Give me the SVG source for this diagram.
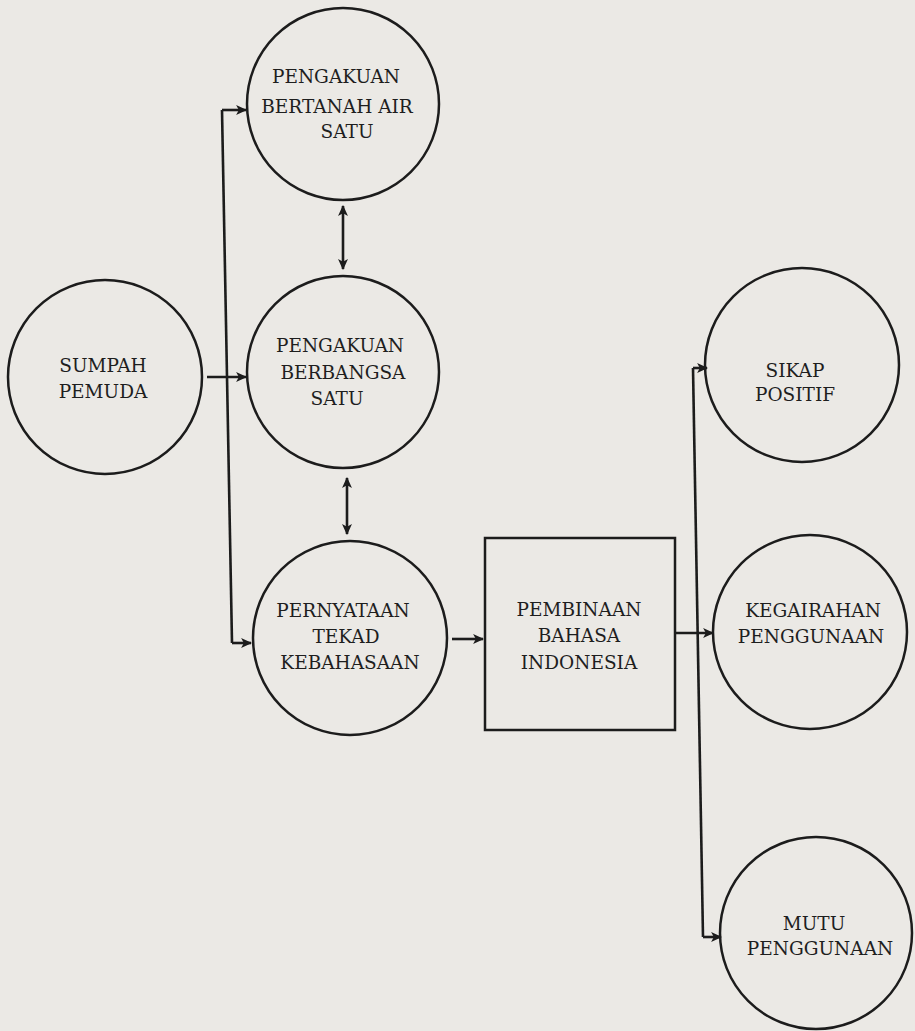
<svg xmlns="http://www.w3.org/2000/svg" width="915" height="1031" viewBox="0 0 915 1031">
<style>
.bg{fill:#ebe9e5}
.n{fill:none;stroke:#1c1c1c;stroke-width:2.5}
.c{fill:none;stroke:#1c1c1c;stroke-width:2.6}
.t{font-family:"DejaVu Serif","Liberation Serif",serif;font-size:18.5px;fill:#1e1e1e;text-anchor:middle}
</style>
<defs>
<marker id="ah" viewBox="0 0 10 10" refX="9" refY="5" markerWidth="11" markerHeight="11" markerUnits="userSpaceOnUse" orient="auto-start-reverse">
<path d="M0,0.5 L10,5 L0,9.5 L2.5,5 Z" fill="#1c1c1c"/>
</marker>
</defs>
<rect class="bg" x="0" y="0" width="915" height="1031"/>
<g id="connectors">
<path class="c" d="M222,110 L232,643"/>
<path class="c" d="M222,110 H246" marker-end="url(#ah)"/>
<path class="c" d="M232,643 H251" marker-end="url(#ah)"/>
<path class="c" d="M207,377 H246" marker-end="url(#ah)"/>
<path class="c" d="M343,206 V269" marker-start="url(#ah)" marker-end="url(#ah)"/>
<path class="c" d="M347,478 V534" marker-start="url(#ah)" marker-end="url(#ah)"/>
<path class="c" d="M452,639 H483" marker-end="url(#ah)"/>
<path class="c" d="M693,368 L703,937"/>
<path class="c" d="M693,368 H707" marker-end="url(#ah)"/>
<path class="c" d="M675,633 H713" marker-end="url(#ah)"/>
<path class="c" d="M703,937 H721" marker-end="url(#ah)"/>
</g>
<g id="sumpah-pemuda">
<circle class="n" cx="105" cy="377" r="97"/>
<text class="t" x="103" y="372">SUMPAH</text>
<text class="t" x="103" y="398">PEMUDA</text>
</g>
<g id="bertanah-air">
<circle class="n" cx="343" cy="104" r="96"/>
<text class="t" x="336" y="83">PENGAKUAN</text>
<text class="t" x="337" y="113">BERTANAH AIR</text>
<text class="t" x="347" y="138">SATU</text>
</g>
<g id="berbangsa">
<circle class="n" cx="343" cy="372" r="96"/>
<text class="t" x="340" y="352">PENGAKUAN</text>
<text class="t" x="343" y="379">BERBANGSA</text>
<text class="t" x="337" y="405">SATU</text>
</g>
<g id="pernyataan">
<circle class="n" cx="350" cy="638" r="97"/>
<text class="t" x="343" y="617">PERNYATAAN</text>
<text class="t" x="346" y="643">TEKAD</text>
<text class="t" x="350" y="669">KEBAHASAAN</text>
</g>
<g id="pembinaan">
<rect class="n" x="485" y="538" width="190" height="192"/>
<text class="t" x="579" y="616">PEMBINAAN</text>
<text class="t" x="579" y="642">BAHASA</text>
<text class="t" x="579" y="669">INDONESIA</text>
</g>
<g id="sikap-positif">
<circle class="n" cx="802" cy="365" r="97"/>
<text class="t" x="795" y="377">SIKAP</text>
<text class="t" x="795" y="401">POSITIF</text>
</g>
<g id="kegairahan">
<circle class="n" cx="810" cy="632" r="97"/>
<text class="t" x="813" y="617">KEGAIRAHAN</text>
<text class="t" x="811" y="643">PENGGUNAAN</text>
</g>
<g id="mutu">
<circle class="n" cx="816" cy="933" r="96"/>
<text class="t" x="814" y="930">MUTU</text>
<text class="t" x="820" y="955">PENGGUNAAN</text>
</g>
</svg>
